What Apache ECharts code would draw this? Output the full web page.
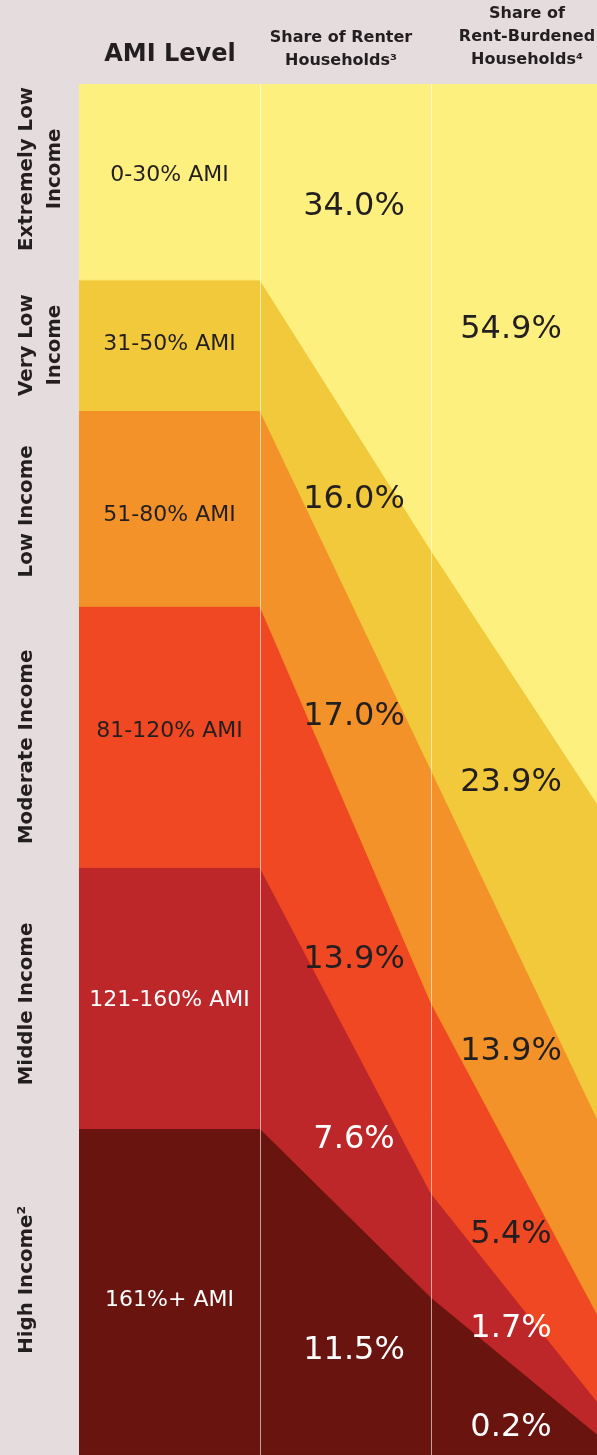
<!DOCTYPE html>
<html>
<head>
<meta charset="utf-8">
<script src="https://cdn.jsdelivr.net/npm/echarts@6/dist/echarts.min.js"></script>
<style>
  html, body { margin: 0; padding: 0; background: #E4DCDD; overflow: hidden; width: 597px; height: 1455px; }
  #chart { width: 619px; height: 1455px; }
</style>
</head>
<body>
<div id="chart"></div>
<script>
// ---------------- DATA ----------------
const bandNames = ['Extremely Low\nIncome', 'Very Low\nIncome', 'Low Income', 'Moderate Income', 'Middle Income', 'High Income²'];
const amiLabels = ['0-30% AMI', '31-50% AMI', '51-80% AMI', '81-120% AMI', '121-160% AMI', '161%+ AMI'];
const amiRangeWidth = [30, 20, 30, 40, 40, 50];          // width of each AMI band (percentage points of AMI)
const renterShare = [34.0, 16.0, 17.0, 13.9, 7.6, 11.5];   // Share of Renter Households
const burdenedShare = [54.9, 23.9, 13.9, 5.4, 1.7, 0.2];   // Share of Rent-Burdened Households
const headerTexts = ['AMI Level', 'Share of Renter\nHouseholds³', 'Share of\nRent-Burdened\nHouseholds⁴'];

// ---------------- LAYOUT / STYLE ----------------
const bandColors = ['#FEF07F', '#F2C93B', '#F29229', '#EF4823', '#BE272A', '#69140F'];
const textColors = ['#231F20', '#231F20', '#231F20', '#231F20', '#FFFFFF', '#FFFFFF'];
const stageX = [0, 181, 352, 540];       // x-axis positions of stage edges (axis units)
const labelColX = [90.5, 275, 432];      // x of label columns (axis units)
const sideLabelX = -66;
const PLOT_H = 1371;                     // plot height in px (for pixel nudges)
const sideNudge = [-13, 0, 3, 10, 6, -12];
const amiNudge = [-7, -1, 7, -6, 2, 8];
const renterNudge = [-50, -18, 1, 24, 6, 13];
const burdenedNudge = [-48, -22, 7, 12, 0, 19];
const FONT = '"DejaVu Sans", sans-serif';

// ---------------- BUILD ----------------
const amiTotal = amiRangeWidth.reduce((a, b) => a + b, 0);
const amiShare = amiRangeWidth.map(w => w / amiTotal * 100);
const stages = [amiShare, amiShare, renterShare, burdenedShare];

function cumBefore(arr, i) { let s = 0; for (let k = 0; k < i; k++) s += arr[k]; return s; }
function boundaryAt(x, i) {
  let j = 0;
  while (j < stageX.length - 2 && x > stageX[j + 1]) j++;
  const t = (x - stageX[j]) / (stageX[j + 1] - stageX[j]);
  const a = cumBefore(stages[j], i), b = cumBefore(stages[j + 1], i);
  return a + (b - a) * t;
}
function bandCenterAt(x, i) { return (boundaryAt(x, i) + boundaryAt(x, i + 1)) / 2; }

// Layered areas: each band is filled from the top (0) down to its cumulative bottom edge;
// lower bands are drawn first, upper bands on top.
const areaSeries = bandNames.map((name, i) => ({
  name: name,
  type: 'line',
  symbol: 'none',
  silent: true,
  data: stages.map((st, j) => [stageX[j], cumBefore(st, i + 1)]),
  lineStyle: { width: 1, color: bandColors[i] },
  areaStyle: { color: bandColors[i], opacity: 1, origin: 'start' },
  z: 2 + (bandNames.length - i) * 0.01
})).reverse();

// vertical column separators
areaSeries[areaSeries.length - 1].markLine = {
  silent: true,
  symbol: ['none', 'none'],
  label: { show: false },
  lineStyle: { color: 'rgba(255,255,255,0.6)', width: 1, type: 'solid' },
  data: [{ xAxis: stageX[1] }, { xAxis: stageX[2] }],
  z: 5
};

function labelSeries(texts, x, nudges, fontSize) {
  return {
    type: 'scatter',
    symbolSize: 0,
    silent: true,
    z: 10,
    itemStyle: { opacity: 1 },
    data: texts.map((t, i) => ({
      name: t,
      value: [x, bandCenterAt(x, i)],
      label: {
        show: true,
        position: 'inside',
        formatter: '{b}',
        color: textColors[i],
        opacity: 1,
        fontFamily: FONT,
        fontSize: fontSize,
        fontWeight: 'normal',
        offset: [0, nudges[i]]
      }
    }))
  };
}

const sideSeries = {
  type: 'scatter',
  symbolSize: 0,
  silent: true,
  z: 10,
  itemStyle: { opacity: 1 },
  data: bandNames.map((t, i) => ({
    name: t,
    value: [sideLabelX, bandCenterAt(0, i) + sideNudge[i] * 100 / PLOT_H],
    label: {
      show: true,
      position: 'inside',
      formatter: '{b}',
      rotate: 90,
      align: 'center',
      verticalAlign: 'top',
      color: '#231F20',
      opacity: 1,
      fontFamily: FONT,
      fontSize: 19.8,
      fontWeight: 'bold',
      lineHeight: 28
    }
  }))
};

const headerPos = [[170, 55, 24, 30], [341, 49.5, 16, 23], [527, 37, 16, 23]];
const graphics = headerTexts.map((t, i) => ({
  type: 'text',
  x: headerPos[i][0],
  y: headerPos[i][1],
  silent: true,
  style: {
    text: t,
    fill: '#231F20',
    font: 'bold ' + headerPos[i][2] + 'px ' + FONT,
    align: 'center',
    verticalAlign: 'middle',
    textAlign: 'center',
    textVerticalAlign: 'middle',
    lineHeight: headerPos[i][3]
  }
}));

const chart = echarts.init(document.getElementById('chart'), null, { renderer: 'canvas' });
chart.setOption({
  animation: false,
  backgroundColor: '#E4DCDD',
  grid: { left: 0, right: 0, top: 84, bottom: 0, containLabel: false },
  xAxis: { type: 'value', min: -79, max: 540, show: false },
  yAxis: { type: 'value', min: 0, max: 100, inverse: true, show: false },
  graphic: graphics,
  series: areaSeries.concat([
    labelSeries(amiLabels, labelColX[0], amiNudge, 22),
    labelSeries(renterShare.map(v => v.toFixed(1) + '%'), labelColX[1], renterNudge, 32),
    labelSeries(burdenedShare.map(v => v.toFixed(1) + '%'), labelColX[2], burdenedNudge, 32),
    sideSeries
  ])
});
</script>
</body>
</html>
